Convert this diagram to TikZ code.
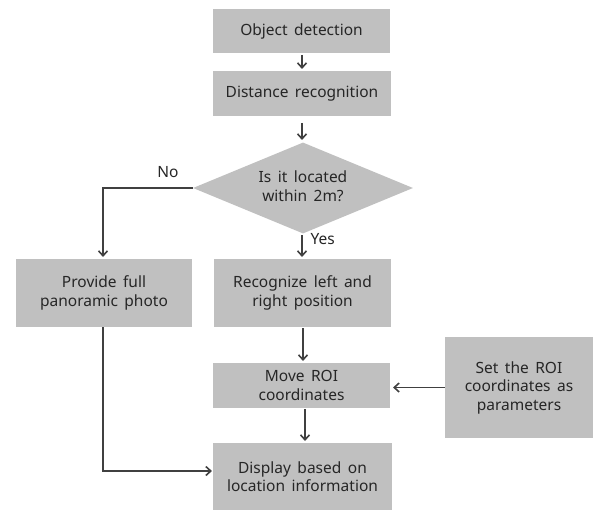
\documentclass[tikz,border=0pt]{standalone}
\usepackage{fontspec}
\setmainfont{Noto Sans}[WordSpace=1.6]
\usetikzlibrary{shapes.geometric,arrows.meta}
\definecolor{boxgray}{RGB}{192,192,192}
\definecolor{linegray}{RGB}{64,64,64}
\begin{document}
\begin{tikzpicture}[x=1pt,y=-1pt,
  txt/.style={font=\fontsize{15.5}{18.5}\selectfont,text=black!85},
  box/.style={txt,fill=boxgray,draw=none,inner sep=0pt,align=center},
  conn/.style={draw=linegray,line width=1.6pt,-{Straight Barb[length=5pt,width=9pt]}}]
\useasboundingbox (0,0) rectangle (596,513);
\node[box,minimum width=177pt,minimum height=44pt] (obj) at (301.5,31) {Object detection};
\node[box,minimum width=178pt,minimum height=45pt] (dist) at (302,93.5) {Distance recognition};
\node[diamond,fill=boxgray,inner sep=0pt,minimum width=220pt,minimum height=91pt,aspect=2.4] (dec) at (303,188) {};
\node[txt,align=center] (dectext) at (303,186) {Is it located\\within 2m?};
\node[box,minimum width=176pt,minimum height=68pt] (prov) at (104,293) {Provide full\\panoramic photo};
\node[box,minimum width=177pt,minimum height=68pt] (rec) at (302.5,293) {Recognize left and\\right position};
\node[box,minimum width=177pt,minimum height=45pt] (move) at (301.5,385.5) {Move ROI\\coordinates};
\node[box,minimum width=148pt,minimum height=101pt] (set) at (519,387.5) {Set the ROI\\coordinates as\\parameters};
\node[box,minimum width=179pt,minimum height=67pt] (disp) at (302.5,476.5) {Display based on\\location information};
\coordinate (a1) at (302,55);
\coordinate (a2) at (302,69);
\coordinate (c1) at (302,123);
\coordinate (c2) at (302,140);
\coordinate (y1) at (302,235);
\coordinate (y2) at (302,257);
\draw[conn] (a1) -- (a2);
\draw[conn] (c1) -- (c2);
\draw[conn] (y1) -- (y2);
\node[txt,anchor=west] (yes) at (307,239) {Yes};
\coordinate (nocorner) at (103,188);
\coordinate (noend) at (103,257);
\draw[conn] (dec.west) -- (nocorner) -- (noend);
\node[txt] (no) at (168,172) {No};
\coordinate (r1) at (303,328);
\coordinate (r2) at (303,361);
\draw[conn] (r1) -- (r2);
\coordinate (s2) at (393,387.5);
\draw[conn] (set.west) -- (s2);
\coordinate (m1) at (305,409);
\coordinate (m2) at (305,441);
\draw[conn] (m1) -- (m2);
\coordinate (pcorner) at (103,471);
\coordinate (pend) at (212,471);
\draw[conn] (prov.south -| pcorner) -- (pcorner) -- (pend);
\end{tikzpicture}
\end{document}
